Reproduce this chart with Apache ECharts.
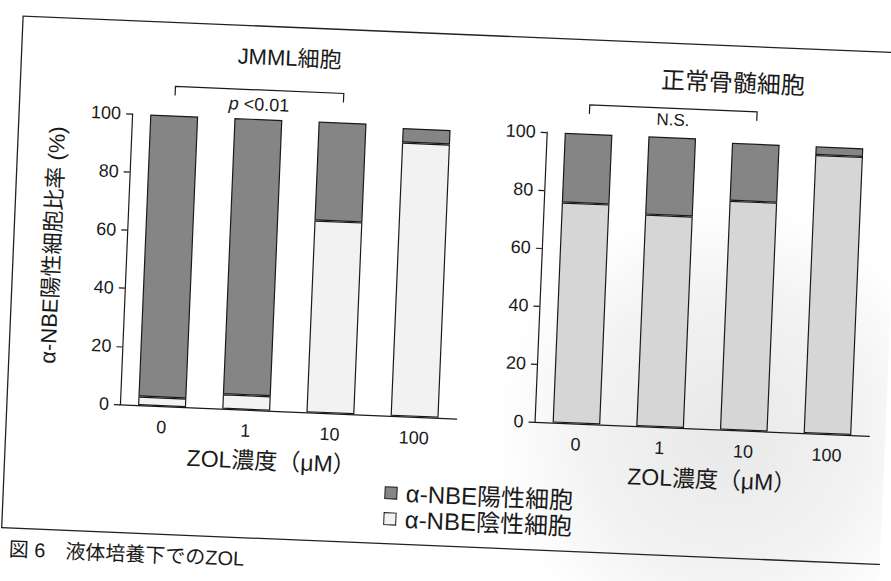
<!DOCTYPE html>
<html>
<head>
<meta charset="utf-8">
<script src="https://cdn.jsdelivr.net/npm/echarts@6/dist/echarts.min.js"></script>
<style>
  html, body { margin: 0; padding: 0; background: #fff; overflow: hidden; }
  #page {
    width: 891px; height: 581px;
    transform: rotate(2.4deg);
    transform-origin: 445.5px 290.5px;
  }
</style>
</head>
<body>
<div id="page"></div>
<script>
// ZOL concentrations (µM) on the category axes
const doses = ['0', '1', '10', '100'];

// JMML cells: share of α-NBE negative / positive cells (%)
const jmmlNegative = [3, 5, 66, 94];
const jmmlPositive = [97, 95, 34, 5];

// Normal bone marrow cells: share of α-NBE negative / positive cells (%)
const normalNegative = [76, 73, 79, 96];
const normalPositive = [24, 27, 20, 3];

const NAME_POS = 'α-NBE陽性細胞';
const NAME_NEG = 'α-NBE陰性細胞';

const FONT = '"Liberation Sans", "Noto Sans CJK JP", sans-serif';
const INK = '#1a1a1a';
const DARK = '#858585';

const chart = echarts.init(document.getElementById('page'), null, { renderer: 'svg' });

function xAxisFor(gridIndex, namePad) {
  return {
    type: 'category', gridIndex, data: doses,
    axisLine: { lineStyle: { color: INK, width: 1.2 } },
    axisTick: { length: 6, lineStyle: { color: INK, width: 1.2 } },
    axisLabel: { fontSize: 18, color: INK, fontFamily: FONT, margin: 12 },
    name: 'ZOL濃度（μM）', nameLocation: 'middle', nameGap: 39,
    nameTextStyle: { fontSize: 23, color: INK, fontFamily: FONT, padding: namePad }
  };
}

function yAxisFor(gridIndex, withName) {
  const ax = {
    type: 'value', gridIndex, min: 0, max: 100, interval: 20,
    axisLine: { show: true, lineStyle: { color: INK, width: 1.2 } },
    axisTick: { show: true, length: 6, lineStyle: { color: INK, width: 1.2 } },
    splitLine: { show: false },
    axisLabel: { fontSize: 18, color: INK, fontFamily: FONT, margin: 11 }
  };
  if (withName) {
    Object.assign(ax, {
      name: 'α-NBE陽性細胞比率 (%)', nameLocation: 'middle', nameGap: 63, nameRotate: 90,
      nameTextStyle: { fontSize: 22, color: INK, fontFamily: FONT, padding: [0, 0, 0, 22] }
    });
  }
  return ax;
}

function barSeries(name, data, axisIndex, color) {
  return {
    name, type: 'bar', stack: 'grid' + axisIndex,
    xAxisIndex: axisIndex, yAxisIndex: axisIndex,
    data, barWidth: '57%',
    itemStyle: { color, borderColor: INK, borderWidth: 1.2 },
    emphasis: { disabled: true }
  };
}

const option = {
  backgroundColor: '#fff',
  animation: false,
  textStyle: { fontFamily: FONT },
  grid: [
    { left: 125, top: 127, width: 337, height: 291 },
    { left: 540, top: 128, width: 335, height: 290 }
  ],
  xAxis: [xAxisFor(0, [0, 30, 0, 0]), xAxisFor(1, [0, 0, 0, 24])],
  yAxis: [yAxisFor(0, true), yAxisFor(1, false)],
  legend: {
    orient: 'vertical', left: 388, top: 478,
    data: [NAME_POS, NAME_NEG],
    icon: 'rect', itemWidth: 12, itemHeight: 12, itemGap: 2,
    selectedMode: false,
    itemStyle: { borderColor: INK, borderWidth: 1 },
    textStyle: { fontSize: 24, color: INK, fontFamily: FONT, padding: [0, 0, 0, 4] }
  },
  series: [
    barSeries(NAME_NEG, jmmlNegative, 0, '#f2f2f2'),
    barSeries(NAME_POS, jmmlPositive, 0, DARK),
    barSeries(NAME_NEG, normalNegative, 1, '#d6d6d6'),
    barSeries(NAME_POS, normalPositive, 1, DARK)
  ]
};

chart.setOption(option);

// Significance brackets and labels placed through the axes' own scales
function px(axisIndex, cat, val) {
  return chart.convertToPixel({ xAxisIndex: axisIndex, yAxisIndex: axisIndex }, [cat, val]);
}
function bracket(axisIndex, fromCat, toCat, val, drop) {
  const a = px(axisIndex, fromCat, val);
  const b = px(axisIndex, toCat, val);
  return {
    type: 'polyline', silent: true,
    shape: { points: [[a[0], a[1] + drop], a, b, [b[0], b[1] + drop]] },
    style: { stroke: INK, fill: null, lineWidth: 1.2 }
  };
}
function label(axisIndex, cat, val, text, size, rich) {
  const p = px(axisIndex, cat, val);
  return {
    type: 'text', silent: true, x: p[0], y: p[1],
    style: {
      text, rich, fill: INK, font: size + 'px ' + FONT,
      align: 'center', verticalAlign: 'middle'
    }
  };
}
function plainText(x, y, text, size, align) {
  return {
    type: 'text', silent: true, x, y,
    style: { text, fill: INK, font: size + 'px ' + FONT, align: align || 'center', verticalAlign: 'middle' }
  };
}

// Grey print haze behind the lower part of the right-hand panel
const haze = {
  type: 'circle', silent: true, z: -10,
  shape: { cx: 730, cy: 420, r: 230 },
  style: {
    fill: {
      type: 'radial', x: 0.5, y: 0.5, r: 0.5,
      colorStops: [
        { offset: 0, color: 'rgba(0,0,0,0.09)' },
        { offset: 0.6, color: 'rgba(0,0,0,0.05)' },
        { offset: 1, color: 'rgba(0,0,0,0)' }
      ]
    }
  }
};

chart.setOption({
  graphic: [
    haze,
    { type: 'rect', silent: true, shape: { x: 12, y: 34, width: 960, height: 512 },
      style: { fill: null, stroke: '#222', lineWidth: 1.3 } },
    plainText(280, 65, 'JMML細胞', 22),
    plainText(724, 71, '正常骨髄細胞', 24),
    bracket(0, '0', '10', 110, 9),
    label(0, '1', 105, '{i|p} <0.01', 18, { i: { fontStyle: 'italic', fontSize: 18, fontFamily: FONT } }),
    bracket(1, '0', '10', 110, 9),
    label(1, '1', 106, 'N.S.', 17),
    plainText(20, 567, '図 6　液体培養下でのZOL', 20, 'left')
  ]
});
</script>
</body>
</html>
